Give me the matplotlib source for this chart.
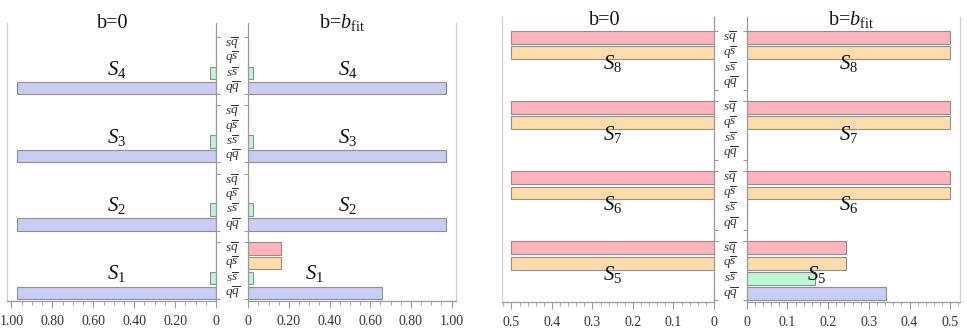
import numpy as np
import matplotlib
matplotlib.use("Agg")
import matplotlib.pyplot as plt
from matplotlib.ticker import MultipleLocator, FixedLocator, FuncFormatter
from matplotlib import transforms

plt.rcParams['font.family'] = ['Liberation Serif', 'DejaVu Serif']
plt.rcParams['mathtext.fontset'] = 'custom'
plt.rcParams['mathtext.rm'] = 'Liberation Serif'
plt.rcParams['mathtext.it'] = 'Liberation Serif:italic'

# bar order inside every group, bottom to top
pairs = [r'$q\overline{q}$', r'$s\overline{s}$', r'$q\overline{s}$', r'$s\overline{q}$']
colors = ['#c9cdf3', '#bdf7d4', '#fedcab', '#ffb4bb']

# left panel: S1..S4
states_a = [r'$S_1$', r'$S_2$', r'$S_3$', r'$S_4$']
a_b0 = {'qq': [0.972, 0.972, 0.972, 0.972],
        'ss': [0.027, 0.027, 0.027, 0.027],
        'qs': [0.0, 0.0, 0.0, 0.0],
        'sq': [0.0, 0.0, 0.0, 0.0]}
a_bfit = {'qq': [0.656, 0.975, 0.975, 0.975],
          'ss': [0.022, 0.025, 0.025, 0.025],
          'qs': [0.161, 0.0, 0.0, 0.0],
          'sq': [0.161, 0.0, 0.0, 0.0]}

# right panel: S5..S8
states_b = [r'$S_5$', r'$S_6$', r'$S_7$', r'$S_8$']
b_b0 = {'qq': [0.0, 0.0, 0.0, 0.0],
        'ss': [0.0, 0.0, 0.0, 0.0],
        'qs': [0.5, 0.5, 0.5, 0.5],
        'sq': [0.5, 0.5, 0.5, 0.5]}
b_bfit = {'qq': [0.343, 0.0, 0.0, 0.0],
          'ss': [0.168, 0.0, 0.0, 0.0],
          'qs': [0.245, 0.5, 0.5, 0.5],
          'sq': [0.245, 0.5, 0.5, 0.5]}

W, H = 967, 329
G = 4.6      # group period (in bar slots)
BH = 0.84    # bar thickness
fig = plt.figure(figsize=(W / 100, H / 100), dpi=100)


def add_ax(x0, x1, ytop, ybot):
    return fig.add_axes([x0 / W, 1 - ybot / H, (x1 - x0) / W, (ybot - ytop) / H])


def fmt_a(v, pos):
    return '0' if abs(v) < 1e-9 else '%.2f' % v


def fmt_b(v, pos):
    return '0' if abs(v) < 1e-9 else '%.1f' % v


def draw_half(ax, data, states, side, xmax, major, minor, fmt, ylim):
    keys = ['qq', 'ss', 'qs', 'sq']
    for k, key in enumerate(keys):
        ys = np.arange(4) * G + k
        ax.barh(ys, data[key], height=BH, color=colors[k],
                edgecolor='#8f8f8f', linewidth=0.8, zorder=2)
    ax.set_xlim(0, xmax)
    ax.set_ylim(*ylim)
    if side == 'left':
        ax.invert_xaxis()
        inner, outer = 'right', 'left'
        ax.yaxis.tick_right()
    else:
        inner, outer = 'left', 'right'
        ax.yaxis.tick_left()
    ax.spines['top'].set_visible(False)
    ax.spines[outer].set_color('#d0d0d0')
    ax.spines[inner].set_color('#9a9a9a')
    ax.spines['bottom'].set_color('#9a9a9a')
    for s in ax.spines.values():
        s.set_linewidth(0.9)

    # group brackets on the inner axis
    edges = []
    for i in range(4):
        edges += [i * G - BH / 2, i * G + 3 + BH / 2]
    ax.yaxis.set_major_locator(FixedLocator(edges))
    ax.tick_params(axis='y', direction='out', length=3, color='#9a9a9a',
                   labelleft=False, labelright=False)

    ax.xaxis.set_major_locator(MultipleLocator(major))
    ax.xaxis.set_minor_locator(MultipleLocator(minor))
    ax.xaxis.set_major_formatter(FuncFormatter(fmt))
    ax.tick_params(axis='x', which='major', direction='out', length=5,
                   color='#9a9a9a', labelsize=10, labelcolor='#333333', pad=5,
                   labelfontfamily='Liberation Serif')
    ax.tick_params(axis='x', which='minor', direction='out', length=3,
                   color='#9a9a9a')

    for i, st in enumerate(states):
        m = max(data[key][i] for key in keys)
        ax.text(m / 2, i * G + 1.5 - 0.6, st, ha='center', va='baseline',
                fontsize=15, color='#111111', zorder=5)


def draw_panel(xs, ytop, ybot, d0, dfit, states, xmax, major, minor, fmt,
               ylim, titles_x, title_base):
    x0, x1, x2, x3 = xs
    axl = add_ax(x0, x1, ytop, ybot)
    axr = add_ax(x2, x3, ytop, ybot)
    draw_half(axl, d0, states, 'left', xmax, major, minor, fmt, ylim)
    draw_half(axr, dfit, states, 'right', xmax, major, minor, fmt, ylim)
    # pair labels in the gap
    tr = transforms.blended_transform_factory(fig.transFigure, axl.transData)
    xc = (x1 + x2) / 2 / W
    for i in range(4):
        for k, lab in enumerate(pairs):
            axl.text(xc, i * G + k, lab, transform=tr, ha='center',
                     va='center', fontsize=9.5, color='#333333', clip_on=False)
    fig.text(titles_x[0] / W, 1 - title_base / H, 'b=0', ha='center',
             va='baseline', fontsize=14.5, color='#111111')
    fig.text(titles_x[1] / W, 1 - title_base / H, r'b=$b_{\mathrm{fit}}$',
             ha='center', va='baseline', fontsize=14.5, color='#111111')


draw_panel((7, 216, 248.3, 456), 23, 301, a_b0, a_bfit, states_a, 1.022,
           0.2, 0.05, fmt_a, (-0.55, 18.17), (113, 342), 28)
draw_panel((501.7, 714, 746.7, 960), 17, 301.7, b_b0, b_bfit, states_b, 0.524,
           0.1, 0.02, fmt_b, (-0.53, 18.14), (605, 851), 25)

fig.savefig('out.png', dpi=100)
